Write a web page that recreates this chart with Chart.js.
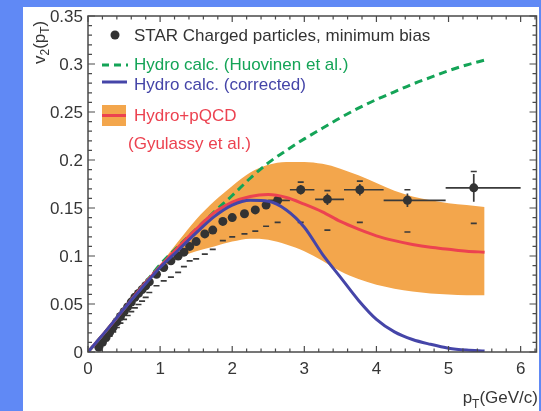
<!DOCTYPE html>
<html>
<head>
<meta charset="utf-8">
<script src="https://cdn.jsdelivr.net/npm/chart.js@4.4.1/dist/chart.umd.min.js"></script>
<style>
  html, body { margin: 0; padding: 0; background: #6089f5; }
  #wrap { width: 541px; height: 411px; }
</style>
</head>
<body>
<div id="wrap"><canvas id="v2Chart" width="541" height="411"></canvas></div>
<script>
// STAR charged particle v2 (minimum bias)
const starPt = [0.15, 0.2, 0.25, 0.3, 0.35, 0.4, 0.45, 0.5, 0.55, 0.6, 0.65, 0.7, 0.75, 0.8, 0.85, 0.95,
  1.05, 1.15, 1.25, 1.33, 1.41, 1.5, 1.62, 1.73, 1.87, 2.0, 2.17, 2.32, 2.47, 2.63, 2.95, 3.32, 3.77, 4.43, 5.35];
const starV2 = [0.005, 0.010, 0.015, 0.0205, 0.026, 0.0315, 0.037, 0.042, 0.047, 0.052, 0.057, 0.061, 0.065, 0.069,
  0.073, 0.081, 0.088, 0.095, 0.100, 0.104, 0.110, 0.115, 0.123, 0.127, 0.136, 0.140, 0.144, 0.148, 0.153, 0.158,
  0.169, 0.159, 0.169, 0.158, 0.171];
const starStat = [0.002, 0.002, 0.002, 0.002, 0.002, 0.002, 0.002, 0.002, 0.002, 0.002, 0.002, 0.002, 0.002, 0.002,
  0.002, 0.002, 0.002, 0.002, 0.002, 0.002, 0.002, 0.002, 0.002, 0.002, 0.003, 0.003, 0.003, 0.003, 0.003, 0.004,
  0.005, 0.006, 0.006, 0.007, 0.0145];
const starSysLo = [0.003, 0.0075, 0.012, 0.0165, 0.021, 0.0255, 0.030, 0.034, 0.038, 0.042, 0.046, 0.0495, 0.053, 0.057,
  0.062, 0.069, 0.074, 0.078, 0.083, 0.089, 0.095, 0.097, 0.102, 0.107, 0.116, 0.120, 0.123, 0.126, 0.131, 0.135,
  0.135, 0.127, 0.135, 0.125, 0.134];
const starSysHi = [0.006, 0.011, 0.016, 0.0215, 0.027, 0.0325, 0.038, 0.043, 0.048, 0.053, 0.058, 0.062, 0.066, 0.070,
  0.074, 0.082, 0.089, 0.096, 0.101, 0.105, 0.111, 0.116, 0.124, 0.128, 0.137, 0.141, 0.145, 0.149, 0.154, 0.161,
  0.177, 0.168, 0.178, 0.169, 0.188];
// pT bin edges, only for the wide high-pT bins
const binLo = [null, null, null, null, null, null, null, null, null, null, null, null, null, null, null, null,
  null, null, null, null, null, null, null, null, null, null, null, null, null, 2.5, 2.8, 3.15, 3.55, 4.1, 4.96];
const binHi = [null, null, null, null, null, null, null, null, null, null, null, null, null, null, null, null,
  null, null, null, null, null, null, null, null, null, null, null, null, null, 2.8, 3.14, 3.55, 4.1, 4.96, 6.0];

// model curves
const curvePt = [0, 0.25, 0.5, 0.75, 1.0, 1.25, 1.5, 1.75, 2.0, 2.25, 2.5, 2.75, 3.0, 3.25, 3.5, 3.75,
  4.0, 4.25, 4.5, 4.75, 5.0, 5.25, 5.5];
const hydroHuovinen = [0, 0.022, 0.045, 0.068, 0.091, 0.110, 0.128, 0.146, 0.163, 0.181, 0.197, 0.210, 0.222,
  0.233, 0.244, 0.254, 0.263, 0.271, 0.279, 0.286, 0.293, 0.299, 0.304];
const hydroCorrected = [0, 0.022, 0.045, 0.067, 0.088, 0.106, 0.124, 0.141, 0.153, 0.158, 0.157, 0.148, 0.130,
  0.102, 0.078, 0.054, 0.034, 0.021, 0.013, 0.008, 0.004, 0.002, 0.001];
const hydroPqcd = [0, 0.022, 0.045, 0.068, 0.089, 0.109, 0.128, 0.145, 0.156, 0.162, 0.164, 0.161, 0.154,
  0.146, 0.136, 0.128, 0.121, 0.116, 0.112, 0.109, 0.107, 0.105, 0.104];

// Hydro+pQCD uncertainty band
const bandPt = [0.9, 1.0, 1.25, 1.5, 1.75, 2.0, 2.25, 2.5, 2.75, 3.0, 3.25, 3.5, 3.75, 4.0, 4.25, 4.5,
  4.75, 5.0, 5.25, 5.5];
const bandHi = [0.081, 0.091, 0.115, 0.138, 0.157, 0.173, 0.187, 0.195, 0.198, 0.198, 0.196, 0.191, 0.184,
  0.176, 0.168, 0.162, 0.158, 0.155, 0.153, 0.151];
const bandLo = [0.081, 0.087, 0.098, 0.105, 0.110, 0.115, 0.118, 0.117, 0.112, 0.105, 0.095, 0.084, 0.076,
  0.070, 0.066, 0.063, 0.061, 0.060, 0.059, 0.059];

// axis ticks
const xTicks = [0, 1, 2, 3, 4, 5, 6];
const xTickLabels = ['0', '1', '2', '3', '4', '5', '6'];
const yTicks = [0, 0.05, 0.1, 0.15, 0.2, 0.25, 0.3, 0.35];
const yTickLabels = ['0', '0.05', '0.1', '0.15', '0.2', '0.25', '0.3', '0.35'];

const GREEN = '#14a457';
const BLUE = '#4545a8';
const RED = '#ec4250';
const ORANGE = '#f3a64c';
const INK = '#363636';
const FONT = '"Liberation Sans", Arial, sans-serif';

function pts(xs, ys) {
  return xs.map((x, i) => ({ x: x, y: ys[i] }));
}

// blue slide border + white panel
const panel = {
  id: 'panel',
  beforeDraw(chart) {
    const ctx = chart.ctx;
    ctx.save();
    ctx.fillStyle = '#6089f5';
    ctx.fillRect(0, 0, chart.width, chart.height);
    ctx.fillStyle = '#ffffff';
    ctx.fillRect(23, 7, 516, chart.height - 7);
    ctx.restore();
  }
};

// stat bars, bin widths and systematic caps under the markers
const errorBars = {
  id: 'errorBars',
  beforeDatasetDraw(chart, args) {
    if (args.index !== 0) return;
    const ctx = chart.ctx;
    const x = chart.scales.x, y = chart.scales.y;
    ctx.save();
    ctx.strokeStyle = '#3a3a3a';
    ctx.lineWidth = 1.7;
    starPt.forEach((pt, i) => {
      const px = x.getPixelForValue(pt);
      ctx.beginPath();
      ctx.moveTo(px, y.getPixelForValue(starV2[i] - starStat[i]));
      ctx.lineTo(px, y.getPixelForValue(starV2[i] + starStat[i]));
      if (binLo[i] !== null) {
        const py = y.getPixelForValue(starV2[i]);
        ctx.moveTo(x.getPixelForValue(binLo[i]), py);
        ctx.lineTo(x.getPixelForValue(binHi[i]), py);
      }
      const lo = y.getPixelForValue(starSysLo[i]);
      const hi = y.getPixelForValue(starSysHi[i]);
      ctx.moveTo(px - 3, lo);
      ctx.lineTo(px + 3, lo);
      ctx.moveTo(px - 3, hi);
      ctx.lineTo(px + 3, hi);
      ctx.stroke();
    });
    ctx.restore();
  }
};

// frame with inward ticks, tick labels, axis titles and legend
const frame = {
  id: 'frame',
  afterDraw(chart) {
    const ctx = chart.ctx;
    const x = chart.scales.x, y = chart.scales.y;
    const a = chart.chartArea;
    ctx.save();
    ctx.strokeStyle = '#4a4a4a';
    ctx.lineWidth = 1.5;
    ctx.strokeRect(a.left, a.top, a.right - a.left, a.bottom - a.top);

    ctx.lineWidth = 1.2;
    ctx.beginPath();
    for (let i = 0; i <= 31; i++) {
      const v = i * 0.2;
      const px = x.getPixelForValue(v);
      const len = (i % 5 === 0) ? 6 : 3.5;
      ctx.moveTo(px, a.bottom); ctx.lineTo(px, a.bottom - len);
      ctx.moveTo(px, a.top); ctx.lineTo(px, a.top + len);
    }
    for (let i = 0; i <= 35; i++) {
      const py = y.getPixelForValue(i * 0.01);
      const len = (i % 5 === 0) ? 7 : 4;
      ctx.moveTo(a.left, py); ctx.lineTo(a.left + len, py);
      ctx.moveTo(a.right, py); ctx.lineTo(a.right - len, py);
    }
    ctx.stroke();

    ctx.fillStyle = INK;
    ctx.font = '17px ' + FONT;
    ctx.textAlign = 'right';
    ctx.textBaseline = 'middle';
    yTicks.forEach((v, i) => ctx.fillText(yTickLabels[i], a.left - 5, y.getPixelForValue(v) + 1));
    ctx.textAlign = 'center';
    ctx.textBaseline = 'top';
    xTicks.forEach((v, i) => ctx.fillText(xTickLabels[i], x.getPixelForValue(v), a.bottom + 9));

    // x title: pT(GeV/c)
    ctx.textBaseline = 'alphabetic';
    ctx.textAlign = 'left';
    const big = '17px ' + FONT, small = '12px ' + FONT;
    ctx.font = big;
    const wp = ctx.measureText('p').width;
    const wr = ctx.measureText('(GeV/c)').width;
    ctx.font = small;
    const wt = ctx.measureText('T').width;
    let tx = 538 - wr - wt - wp;
    ctx.font = big;
    ctx.fillText('p', tx, 403);
    ctx.font = small;
    ctx.fillText('T', tx + wp, 408);
    ctx.font = big;
    ctx.fillText('(GeV/c)', tx + wp + wt, 403);

    // y title: v2(pT), rotated
    ctx.save();
    ctx.translate(45, 64);
    ctx.rotate(-Math.PI / 2);
    let cx = 0;
    const part = (s, f, dy) => {
      ctx.font = f;
      ctx.fillText(s, cx, dy);
      cx += ctx.measureText(s).width;
    };
    part('v', big, 0);
    part('2', small, 4);
    part('(p', big, 0);
    part('T', small, 4);
    part(')', big, 0);
    ctx.restore();

    // legend
    ctx.font = big;
    ctx.textBaseline = 'middle';
    ctx.fillStyle = '#333333';
    ctx.beginPath();
    ctx.arc(115, 35, 4.5, 0, Math.PI * 2);
    ctx.fill();
    ctx.fillText('STAR Charged particles, minimum bias', 134, 36);

    ctx.lineWidth = 3;
    ctx.strokeStyle = GREEN;
    ctx.setLineDash([7, 5]);
    ctx.beginPath(); ctx.moveTo(102, 65); ctx.lineTo(128, 65); ctx.stroke();
    ctx.setLineDash([]);
    ctx.fillStyle = GREEN;
    ctx.fillText('Hydro calc. (Huovinen et al.)', 134, 65);

    ctx.strokeStyle = BLUE;
    ctx.beginPath(); ctx.moveTo(102, 82); ctx.lineTo(127, 82); ctx.stroke();
    ctx.fillStyle = BLUE;
    ctx.fillText('Hydro calc. (corrected)', 134, 85);

    ctx.fillStyle = ORANGE;
    ctx.fillRect(102, 105, 24, 21);
    ctx.strokeStyle = RED;
    ctx.beginPath(); ctx.moveTo(102, 115.5); ctx.lineTo(126, 115.5); ctx.stroke();
    ctx.fillStyle = RED;
    ctx.fillText('Hydro+pQCD', 134, 116);
    ctx.fillText('(Gyulassy et al.)', 128, 144);
    ctx.restore();
  }
};

// order: band at the bottom, then data, then the model lines on top
const ctx = document.getElementById('v2Chart').getContext('2d');
new Chart(ctx, {
  type: 'line',
  data: {
    datasets: [
      {
        label: 'STAR Charged particles, minimum bias',
        data: pts(starPt, starV2),
        showLine: false,
        pointRadius: 4.5,
        pointBackgroundColor: '#333333',
        pointBorderWidth: 0,
        order: 6
      },
      {
        label: 'Hydro calc. (Huovinen et al.)',
        data: pts(curvePt, hydroHuovinen),
        borderColor: GREEN,
        borderWidth: 3,
        borderDash: [8, 5],
        pointRadius: 0,
        cubicInterpolationMode: 'monotone',
        fill: false,
        order: 4
      },
      {
        label: 'Hydro calc. (corrected)',
        data: pts(curvePt, hydroCorrected),
        borderColor: BLUE,
        borderWidth: 3,
        pointRadius: 0,
        cubicInterpolationMode: 'monotone',
        fill: false,
        order: 2
      },
      {
        label: 'Hydro+pQCD',
        data: pts(curvePt, hydroPqcd),
        borderColor: RED,
        borderWidth: 3,
        pointRadius: 0,
        cubicInterpolationMode: 'monotone',
        fill: false,
        order: 3
      },
      {
        label: 'band upper',
        data: pts(bandPt, bandHi),
        borderWidth: 0,
        borderColor: 'rgba(0,0,0,0)',
        backgroundColor: ORANGE,
        pointRadius: 0,
        cubicInterpolationMode: 'monotone',
        fill: '+1',
        order: 10
      },
      {
        label: 'band lower',
        data: pts(bandPt, bandLo),
        borderWidth: 0,
        borderColor: 'rgba(0,0,0,0)',
        pointRadius: 0,
        cubicInterpolationMode: 'monotone',
        fill: false,
        order: 11
      }
    ]
  },
  options: {
    responsive: false,
    animation: false,
    devicePixelRatio: 1,
    layout: { padding: { left: 88, right: 3, top: 16, bottom: 59 } },
    plugins: {
      legend: { display: false },
      tooltip: { enabled: false }
    },
    scales: {
      x: { type: 'linear', min: 0, max: 6.22, display: false },
      y: { type: 'linear', min: 0, max: 0.35, display: false }
    }
  },
  plugins: [panel, errorBars, frame]
});
</script>
</body>
</html>
